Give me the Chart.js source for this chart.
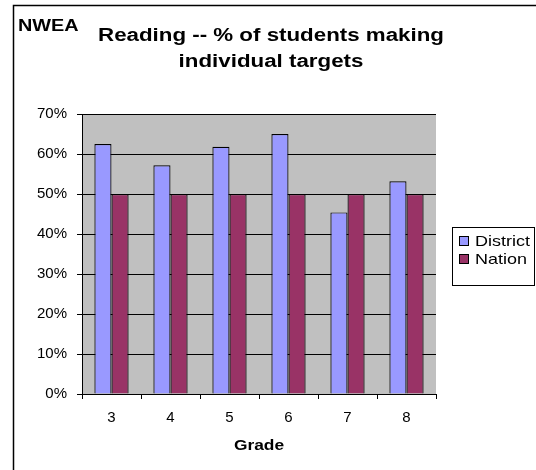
<!DOCTYPE html>
<html>
<head>
<meta charset="utf-8">
<script src="https://cdn.jsdelivr.net/npm/chart.js@4.4.1/dist/chart.umd.min.js"></script>
<style>
  html, body { margin: 0; padding: 0; background: #fff; }
  #wrap { width: 536px; height: 470px; position: relative; }
</style>
</head>
<body>
<div id="wrap"><canvas id="c" width="536" height="470"></canvas></div>
<script>
const grades = ['3', '4', '5', '6', '7', '8'];
const district = [0.625, 0.572, 0.618, 0.65, 0.454, 0.532];
const nation = [0.5, 0.5, 0.5, 0.5, 0.5, 0.5];
const titleLines = ['Reading -- % of students making', 'individual targets'];
const xTitle = 'Grade';

const FONT = "'Liberation Sans', Arial, sans-serif";
const SX = 1.24; // the original text is a bit wider than Arial

function wideText(ctx, text, x, y, align) {
  ctx.save();
  ctx.translate(x, y);
  ctx.scale(SX, 1);
  ctx.textAlign = align;
  ctx.fillText(text, 0, 0);
  ctx.restore();
}

// gray plot background, frame, NWEA tag, title and legend box
const decor = {
  id: 'decor',
  beforeDraw(chart) {
    const { ctx, chartArea: a } = chart;
    ctx.save();
    ctx.fillStyle = '#C0C0C0';
    ctx.fillRect(a.left, a.top, a.right - a.left, a.bottom - a.top);
    ctx.restore();
  },
  afterDraw(chart) {
    const { ctx, chartArea: a } = chart;
    ctx.save();
    // outer frame (only top & left visible)
    ctx.strokeStyle = '#000';
    ctx.lineWidth = 1.5;
    ctx.beginPath();
    ctx.moveTo(13.5, 470);
    ctx.lineTo(13.5, 5.5);
    ctx.lineTo(536, 5.5);
    ctx.stroke();

    ctx.fillStyle = '#000';
    ctx.textBaseline = 'middle';
    ctx.font = 'bold 16px ' + FONT;
    wideText(ctx, 'NWEA', 18, 27, 'left');

    ctx.font = 'bold 18px ' + FONT;
    wideText(ctx, titleLines[0], 271, 36, 'center');
    wideText(ctx, titleLines[1], 271, 62, 'center');

    ctx.font = 'bold 14px ' + FONT;
    wideText(ctx, xTitle, (a.left + a.right) / 2, 446, 'center');

    // legend
    ctx.lineWidth = 1;
    ctx.fillStyle = '#fff';
    ctx.fillRect(452.5, 227.5, 82, 58);
    ctx.strokeRect(452.5, 227.5, 82, 58);
    const ys = [241, 259];
    ctx.font = '14.5px ' + FONT;
    chart.data.datasets.forEach((ds, i) => {
      ctx.fillStyle = ds.backgroundColor;
      ctx.fillRect(459.5, ys[i] - 4.5, 9, 9);
      ctx.strokeStyle = '#000';
      ctx.strokeRect(459.5, ys[i] - 4.5, 9, 9);
      ctx.fillStyle = '#000';
      wideText(ctx, ds.label, 475, ys[i] + 1, 'left');
    });
    ctx.restore();
  }
};

new Chart(document.getElementById('c'), {
  type: 'bar',
  data: {
    labels: grades,
    datasets: [
      { label: 'District', data: district, backgroundColor: '#9999FF', borderColor: '#000', borderWidth: 1.2 },
      { label: 'Nation', data: nation, backgroundColor: '#993366', borderColor: '#000', borderWidth: 1.2 },
    ],
  },
  plugins: [decor],
  options: {
    responsive: false,
    animation: false,
    layout: { padding: { top: 114, right: 100, left: 0, bottom: 0 } },
    datasets: { bar: { categoryPercentage: 0.58, barPercentage: 1.0 } },
    scales: {
      y: {
        min: 0,
        max: 0.7,
        afterFit: (s) => { s.width = 82; },
        ticks: {
          stepSize: 0.1,
          padding: 10,
          color: '#000',
          font: { family: FONT, size: 15 },
          callback: (v) => Math.round(v * 100) + '%',
        },
        grid: { color: '#000', lineWidth: 1, tickLength: 5, drawTicks: true },
        border: { color: '#000', width: 1 },
      },
      x: {
        afterFit: (s) => { s.height = 76; },
        ticks: {
          padding: 10,
          color: '#000',
          font: { family: FONT, size: 15 },
        },
        grid: { offset: true, drawOnChartArea: false, color: '#000', tickLength: 5 },
        border: { color: '#000', width: 1 },
      },
    },
    plugins: {
      legend: { display: false },
      tooltip: { enabled: false },
    },
  },
});
</script>
</body>
</html>
